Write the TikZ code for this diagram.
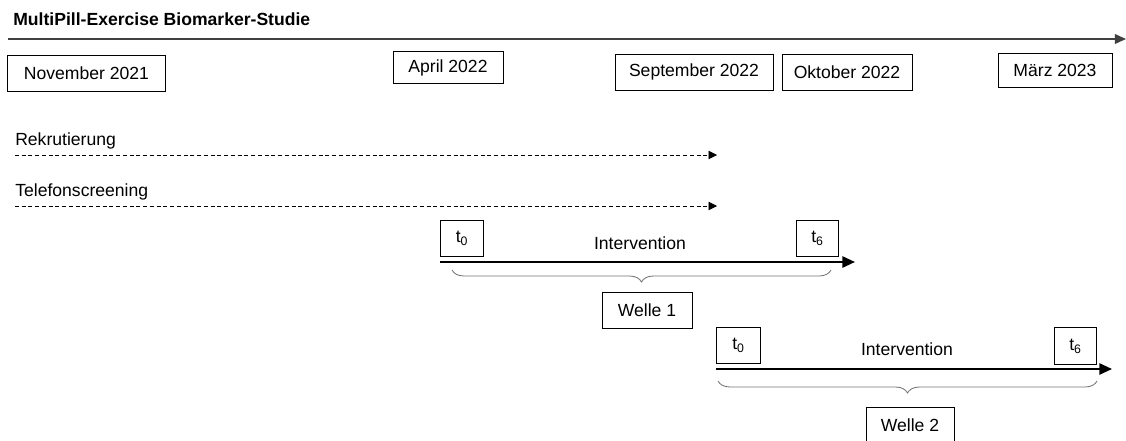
\documentclass[tikz,border=0pt]{standalone}
\usepackage{fontspec}
\setmainfont{Liberation Sans}
\usetikzlibrary{arrows.meta,decorations.pathreplacing}

\begin{document}
\begin{tikzpicture}[x=0.025cm,y=-0.025cm]
    \tikzset{
      lbl/.style={font=\fontsize{12.5}{15}\selectfont,inner sep=0pt},
      datebox/.style={lbl,draw,line width=0.6pt,minimum height=0.9cm},
      tbox/.style={datebox,minimum width=1.08cm,minimum height=0.92cm},
      axis/.style={-{Triangle[length=8pt,width=7pt]},line width=1pt,draw=black!75},
      phase/.style={-{Triangle[length=6pt,width=6pt]},line width=0.6pt,dash pattern=on 2.8pt off 2pt},
      interv/.style={-{Triangle[length=9pt,width=8pt]},line width=1.4pt},
      wave/.style={decorate,decoration={brace,mirror,amplitude=0.3cm},draw=black!55,line width=0.6pt}
    }
    \useasboundingbox (0,0) rectangle (1126,441);

    % title and time axis
    \node[lbl,font=\fontsize{12.5}{15}\selectfont\bfseries,anchor=west] (title) at (13,19)
          {MultiPill-Exercise Biomarker-Studie};
    \coordinate (axL) at (8,39);
    \coordinate (axR) at (1126,39);
    \draw[axis] (axL) -- (axR);

    \node[datebox,minimum width=3.93cm] (nov) at (86.5,73) {November 2021};
    \node[datebox,minimum width=2.75cm,minimum height=0.78cm] (apr) at (448,67.5) {April 2022};
    \node[datebox,minimum width=3.95cm] (sep) at (694,72) {September 2022};
    \node[datebox,minimum width=3.25cm] (okt) at (847,72) {Oktober 2022};
    \node[datebox,minimum width=2.85cm,minimum height=0.85cm] (mar) at (1055,70) {März 2023};

    % recruitment phases
    \node[lbl,anchor=west] (rek) at (15,141) {Rekrutierung};
    \coordinate (rekA) at (15,155);
    \coordinate (rekB) at (717,155);
    \draw[phase] (rekA) -- (rekB);
    \node[lbl,anchor=west] (tel) at (15,192) {Telefonscreening};
    \coordinate (telA) at (15,206);
    \coordinate (telB) at (717,206);
    \draw[phase] (telA) -- (telB);

    % wave 1
    \node[tbox] (w1a) at (462,238.5) {t\textsubscript{0}};
    \node[tbox,minimum width=1.03cm] (w1b) at (817.5,238.5) {t\textsubscript{6}};
    \node[lbl] (w1i) at (640,243) {Intervention};
    \coordinate (w1s) at (440,262);
    \coordinate (w1e) at (855,262);
    \draw[interv] (w1s) -- (w1e);
    \coordinate (b1l) at (452,270);
    \coordinate (b1r) at (831,270);
    \draw[wave] (b1l) -- (b1r);
    \node[datebox,minimum width=2.25cm] (w1) at (647,310) {Welle 1};

    % wave 2
    \node[tbox] (w2a) at (738.5,345.5) {t\textsubscript{0}};
    \node[tbox,minimum width=1.03cm] (w2b) at (1075.5,346) {t\textsubscript{6}};
    \node[lbl] (w2i) at (907,349) {Intervention};
    \coordinate (w2s) at (716,369);
    \coordinate (w2e) at (1112,369);
    \draw[interv] (w2s) -- (w2e);
    \coordinate (b2l) at (718,381);
    \coordinate (b2r) at (1097,381);
    \draw[wave] (b2l) -- (b2r);
    \node[datebox,minimum width=2.2cm] (w2) at (910,425) {Welle 2};
\end{tikzpicture}
\end{document}
